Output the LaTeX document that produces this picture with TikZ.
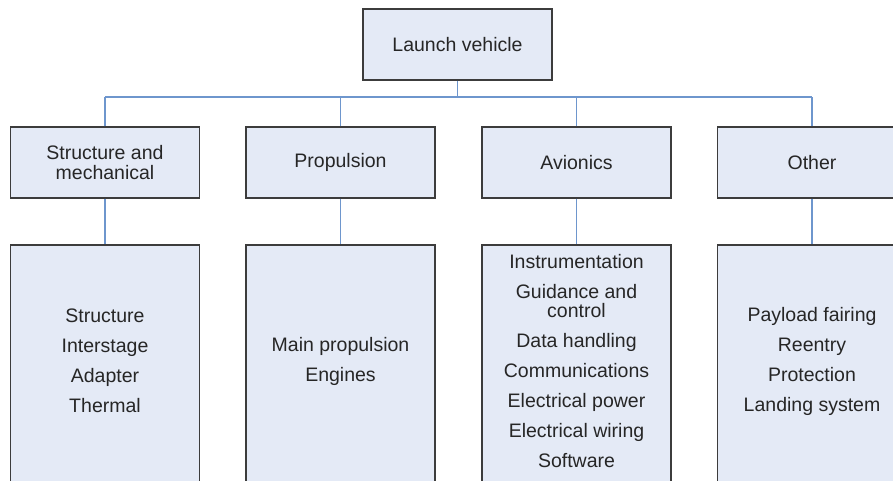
\documentclass[tikz,border=0pt]{standalone}
\usepackage{fontspec}
\setmainfont{Liberation Sans}
\definecolor{boxfill}{RGB}{228,234,246}
\definecolor{boxline}{RGB}{60,60,60}
\definecolor{wire}{RGB}{110,150,205}
\begin{document}
\begin{tikzpicture}[x=1pt,y=-1pt,
  box/.style={draw=boxline,line width=1.4pt,fill=boxfill,rectangle,inner sep=0pt},
  lbl/.style={align=center,font=\fontsize{19.5}{20}\selectfont,text=black!85},
  list/.style={align=center,font=\fontsize{19.5}{30}\selectfont,text=black!85},
  wirestyle/.style={draw=wire,line width=1.1pt}]
\useasboundingbox (0,0) rectangle (893,480);
% top
\node[box,minimum width=189pt,minimum height=71pt] (lv) at (457.5,44.5) {};
\node[lbl] (lvt) at (lv.center) {Launch vehicle};
% mid boxes
\foreach \n/\x in {m1/105, m2/340.5, m3/576.5, m4/812}{
  \node[box,minimum width=189pt,minimum height=71pt] (\n) at (\x,162.5) {};
  \node[box,minimum width=189pt,minimum height=260pt] (b\n) at (\x,375) {};
}
\node[lbl] (m1t) at (m1.center) {Structure and\\mechanical};
\node[lbl] (m2t) at (m2.center) {Propulsion};
\node[lbl] (m3t) at (m3.center) {Avionics};
\node[lbl] (m4t) at (m4.center) {Other};
% bottom texts
\node[list] (t1) at (105,361) {Structure\\Interstage\\Adapter\\Thermal};
\node[list] (t2) at (340.5,361) {Main propulsion\\Engines};
\node[list] (t3) at (576.5,361) {Instrumentation\\Guidance and\\[-11pt]control\\Data handling\\Communications\\Electrical power\\Electrical wiring\\Software};
\node[list] (t4) at (812,361) {Payload fairing\\Reentry\\Protection\\Landing system};
% connectors
\coordinate (hb) at (457.5,97);
\draw[wirestyle] (lv.south) -- (hb);
\foreach \n in {m1,m2,m3,m4}{
  \draw[wirestyle] (\n.north) -- (\n.north |- hb);
  \draw[wirestyle] (\n.south) -- (b\n.north);
}
\draw[wirestyle] (m1.north |- hb) -- (m4.north |- hb);
\end{tikzpicture}
\end{document}
